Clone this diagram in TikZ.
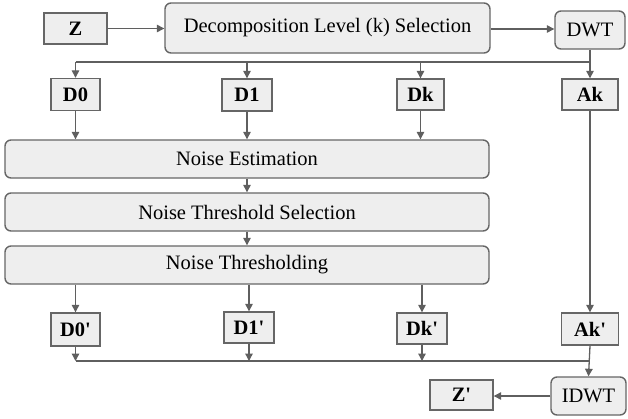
\documentclass[tikz,border=0pt]{standalone}
\usepackage{fontspec}
\setmainfont{Liberation Serif}
\usetikzlibrary{arrows.meta,calc}
\definecolor{bord}{HTML}{666666}
\definecolor{boxfill}{HTML}{EEEEEE}
\definecolor{linec}{HTML}{5F5F5F}
\newcommand{\sq}{\textquotesingle}
\tikzset{
  sqbox/.style={draw=bord, fill=boxfill, line width=1.4pt, inner sep=0pt, font=\fontsize{20.5}{24}\selectfont\bfseries},
  rbox/.style={draw=bord, fill=boxfill, line width=1.4pt, rounded corners=6pt, inner sep=0pt, font=\fontsize{20.5}{24}\selectfont},
  conn/.style={draw=linec, line width=1.3pt},
  arr/.style={conn, -{Triangle[width=7.5pt,length=7.5pt]}},
}
\begin{document}
\begin{tikzpicture}[x=1pt,y=-1pt]
\path[use as bounding box] (0,0) rectangle (628,418);
% top row
\node[sqbox, minimum width=63pt, minimum height=31pt] (Z) at (75.5,28.5) {Z};
\node[rbox, minimum width=325pt, minimum height=50pt] (dec) at (327.5,28) {Decomposition Level (k) Selection};
\node[rbox, minimum width=70pt, minimum height=38pt] (DWT) at (590,30) {DWT};
% coefficient boxes
\node[sqbox, minimum width=49pt, minimum height=32pt] (D0) at (75.5,94.5) {D0};
\node[sqbox, minimum width=50pt, minimum height=32pt] (D1) at (247,95) {D1};
\node[sqbox, minimum width=47pt, minimum height=31pt] (Dk) at (420.5,94.5) {Dk};
\node[sqbox, minimum width=56pt, minimum height=31pt] (Ak) at (590,94.5) {Ak};
% processing
\node[rbox, minimum width=484pt, minimum height=38pt] (NE) at (247,159) {Noise Estimation};
\node[rbox, minimum width=484pt, minimum height=38pt] (NTS) at (247,212) {Noise Threshold Selection};
\node[rbox, minimum width=484pt, minimum height=38pt] (NT) at (247,265) {Noise Thresholding};
% thresholded coefficients
\node[sqbox, minimum width=49pt, minimum height=33pt] (D0p) at (75.5,329.5) {D0\sq};
\node[sqbox, minimum width=50pt, minimum height=31pt] (D1p) at (249,327.5) {D1\sq};
\node[sqbox, minimum width=50pt, minimum height=31pt] (Dkp) at (422,328.5) {Dk\sq};
\node[sqbox, minimum width=57pt, minimum height=32pt] (Akp) at (590,329) {Ak\sq};
% reconstruction
\node[rbox, minimum width=75pt, minimum height=38pt] (IDWT) at (588.5,396) {IDWT};
\node[sqbox, minimum width=63pt, minimum height=30pt] (Zp) at (461.5,395) {Z\sq};
% split / merge points
\coordinate (sR) at (590,62);
\coordinate (sL) at (75.5,62);
\coordinate (mR) at (590,361);
\coordinate (mL) at (75.5,361);
% connectors
\draw[arr] (Z.east) -- (dec.west |- Z.east);
\draw[arr] (dec.east |- 0,29) -- (DWT.west |- 0,29);
\draw[conn] (sL) -- (sR);
\draw[arr] (DWT.south) -- (Ak.north);
\draw[arr] (sL) -- (D0.north);
\draw[arr] (D1.north |- sL) -- (D1.north);
\draw[arr] (Dk.north |- sL) -- (Dk.north);
\draw[arr] (D0.south) -- (D0.south |- NE.north);
\draw[arr] (D1.south) -- (D1.south |- NE.north);
\draw[arr] (Dk.south) -- (Dk.south |- NE.north);
\draw[arr] (NE.south) -- (NTS.north);
\draw[arr] (NTS.south) -- (NT.north);
\draw[arr] (D0p.north |- NT.south) -- (D0p.north);
\draw[arr] (D1p.north |- NT.south) -- (D1p.north);
\draw[arr] (Dkp.north |- NT.south) -- (Dkp.north);
\draw[arr] (Ak.south) -- (Akp.north);
\draw[conn] (mL) -- (mR);
\draw[arr] (D0p.south) -- (mL);
\draw[arr] (D1p.south) -- (D1p.south |- mL);
\draw[arr] (Dkp.south) -- (Dkp.south |- mL);
\draw[arr] (Akp.south) -- (IDWT.north);
\draw[arr] (IDWT.west) -- (Zp.east |- IDWT.west);
\end{tikzpicture}
\end{document}
